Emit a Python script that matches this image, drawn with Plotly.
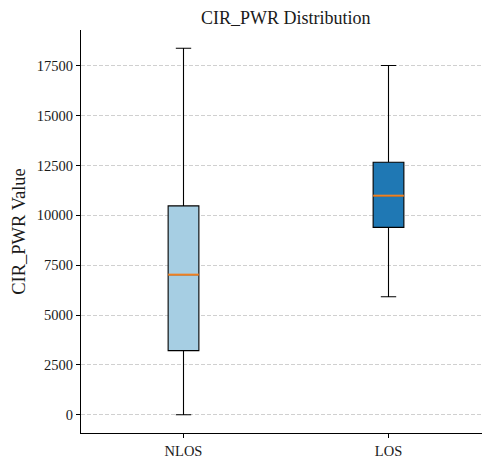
import plotly.graph_objects as go

# Summary statistics of CIR_PWR per channel condition
categories = ["NLOS", "LOS"]
positions = [1, 2]
lower_whisker = [0, 5916]
q1 = [3215, 9397]
median = [7025, 10987]
q3 = [10475, 12663]
upper_whisker = [18380, 17515]
box_colors = ["#a6cee3", "#1f78b4"]
y_ticks = [0, 2500, 5000, 7500, 10000, 12500, 15000, 17500]

BOX_W = 0.15
FONT = "Liberation Serif"
W, H = 482, 459
M_L, M_R, M_T, M_B = 81, 0, 30, 23

fig = go.Figure()

for cat, pos, lo, a, m, b, hi, col in zip(categories, positions, lower_whisker,
                                            q1, median, q3, upper_whisker, box_colors):
    fig.add_trace(go.Box(
        x=[pos], q1=[a], median=[m], q3=[b],
        lowerfence=[lo], upperfence=[hi],
        width=BOX_W, whiskerwidth=0.5,
        fillcolor=col, line=dict(color="#000000", width=1.1),
        boxpoints=False, name=cat, showlegend=False, hoverinfo="skip",
    ))
    # orange median bar drawn over the box
    fig.add_trace(go.Scatter(
        x=[pos - BOX_W / 2, pos + BOX_W / 2], y=[m, m], mode="lines",
        line=dict(color="#f08020", width=2), showlegend=False, hoverinfo="skip",
    ))

# axis limits with 5% padding around the whisker extent
lo_all, hi_all = min(lower_whisker), max(upper_whisker)
pad = 0.05 * (hi_all - lo_all)
y_range = [lo_all - pad, hi_all + pad]

# the plotting area runs slightly past the right edge of the page
px_per_unit = 205.0
x_range = [0.5, 0.5 + (W - M_L - M_R) / px_per_unit]

fig.update_layout(
    width=W, height=H,
    margin=dict(l=M_L, r=M_R, t=M_T, b=M_B),
    paper_bgcolor="white", plot_bgcolor="white",
    font=dict(family=FONT, color="#1a1a1a", size=14.5),
    title=dict(text="CIR_PWR Distribution", font=dict(size=18, family=FONT),
               x=285.8 / W, xref="container", xanchor="center",
               y=1 - 18 / H, yref="container", yanchor="middle"),
    xaxis=dict(range=x_range, tickmode="array", tickvals=positions, ticktext=categories,
               showline=True, linecolor="#000000", linewidth=1.2,
               ticks="outside", ticklen=4, tickcolor="#000000", tickwidth=1,
               showgrid=False, zeroline=False, tickfont=dict(size=14.5)),
    yaxis=dict(range=y_range, tickmode="array", tickvals=y_ticks,
               ticktext=[str(v) for v in y_ticks],
               showline=True, linecolor="#000000", linewidth=1.2,
               ticks="outside", ticklen=4, tickcolor="#000000", tickwidth=1,
               showgrid=True, gridcolor="#d0d0d0", gridwidth=0.8, griddash="4px,2px",
               zeroline=False, tickfont=dict(size=14.5),
               title=dict(text="CIR_PWR Value", font=dict(size=18.5), standoff=6)),
)

fig.write_html("out.html")
